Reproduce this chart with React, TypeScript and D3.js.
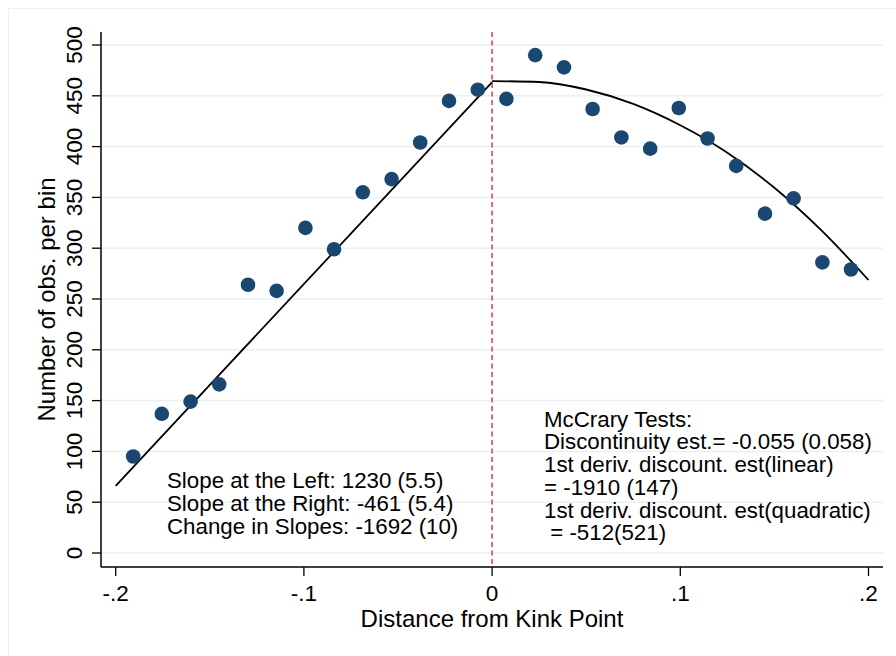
import React from "react";
import * as d3 from "d3";

// Binned observations (distance from kink, count per bin)
const binX: number[] = [
  -0.1907, -0.1755, -0.1602, -0.1450, -0.1297, -0.1145, -0.0992, -0.0840, -0.0687, -0.0534, -0.0382, -0.0229, -0.0076,
  0.0076, 0.0229, 0.0382, 0.0534, 0.0687, 0.0840, 0.0992, 0.1145, 0.1297, 0.1450, 0.1602, 0.1755, 0.1907,
];
const binCount: number[] = [
  95, 137, 149, 166, 264, 258, 320, 299, 355, 368, 404, 445, 456,
  447, 490, 478, 437, 409, 398, 438, 408, 381, 334, 349, 286, 279,
];

// Left linear fit
const leftFitX: number[] = [-0.2, 0];
const leftFitY: number[] = [66, 463.5];

// Right quadratic fit
const rightFitX: number[] = [0, 0.025, 0.05, 0.075, 0.1, 0.125, 0.15, 0.175, 0.2];
const rightFitY: number[] = [464.5, 463.6, 456.2, 442, 421, 394, 359.5, 317.5, 268.7];

const xTicks: number[] = [-0.2, -0.1, 0, 0.1, 0.2];
const xTickLabels: string[] = ["-.2", "-.1", "0", ".1", ".2"];
const yTicks: number[] = [0, 50, 100, 150, 200, 250, 300, 350, 400, 450, 500];

const leftNotes: string[] = [
  "Slope at the Left: 1230 (5.5)",
  "Slope at the Right: -461 (5.4)",
  "Change in Slopes: -1692 (10)",
];
const rightNotes: string[] = [
  "McCrary Tests:",
  "Discontinuity est.= -0.055 (0.058)",
  "1st deriv. discount. est(linear)",
  "= -1910 (147)",
  "1st deriv. discount. est(quadratic)",
  " = -512(521)",
];

const xTitle = "Distance from Kink Point";
const yTitle = "Number of obs. per bin";

const W = 896;
const H = 656;
const PL = 101, PR = 883, PT = 32, PB = 567;
const FONT = "'Liberation Sans', Arial, Helvetica, sans-serif";

export default function App() {
  const x = d3.scaleLinear().domain([-0.2, 0.2]).range([115.7, 868.5]);
  const y = d3.scaleLinear().domain([0, 500]).range([553, 45]);

  const leftPath = d3
    .line<number>()
    .x((d) => x(leftFitX[d]))
    .y((d) => y(leftFitY[d]))(leftFitX.map((_, i) => i)) || "";
  const rightPath = d3
    .line<number>()
    .x((d) => x(rightFitX[d]))
    .y((d) => y(rightFitY[d]))
    .curve(d3.curveMonotoneX)(rightFitX.map((_, i) => i)) || "";

  return (
    <svg
      width={W}
      height={H}
      style={{ position: "absolute", left: 0, top: 0, background: "#fff" }}
      fontFamily={FONT}
    >
      <rect x={0} y={0} width={W} height={H} fill="#fff" />
      <line x1={8} x2={W} y1={8.5} y2={8.5} stroke="#eaf0f3" strokeWidth={1} />
      <line x1={8.5} x2={8.5} y1={8} y2={H} stroke="#eaf0f3" strokeWidth={1} />

      {/* gridlines */}
      {yTicks.map((t) => (
        <line key={"g" + t} x1={PL} x2={PR} y1={y(t)} y2={y(t)} stroke="#e9eff3" strokeWidth={1.5} />
      ))}

      {/* kink line */}
      <line x1={x(0)} x2={x(0)} y1={PT} y2={PB} stroke="#d9466e" strokeWidth={1.6} strokeDasharray="5,3.5" />

      {/* axes */}
      <line x1={PL} x2={PL} y1={PT} y2={PB} stroke="#000" strokeWidth={1.5} />
      <line x1={PL} x2={PR} y1={PB} y2={PB} stroke="#000" strokeWidth={1.5} />

      {yTicks.map((t) => (
        <g key={"y" + t}>
          <line x1={PL - 9} x2={PL} y1={y(t)} y2={y(t)} stroke="#000" strokeWidth={1.3} />
          <text
            transform={`translate(${82},${y(t)}) rotate(-90)`}
            textAnchor="middle"
            fontSize={22.5}
            fill="#000"
          >
            {t}
          </text>
        </g>
      ))}

      {xTicks.map((t, i) => (
        <g key={"x" + t}>
          <line x1={x(t)} x2={x(t)} y1={PB} y2={PB + 9} stroke="#000" strokeWidth={1.3} />
          <text x={x(t)} y={601} textAnchor="middle" fontSize={22.5} fill="#000">
            {xTickLabels[i]}
          </text>
        </g>
      ))}

      <text x={(PL + PR) / 2} y={627} textAnchor="middle" fontSize={24} fill="#000">
        {xTitle}
      </text>
      <text
        transform={`translate(${55},${(PT + PB) / 2}) rotate(-90)`}
        textAnchor="middle"
        fontSize={24}
        fill="#000"
      >
        {yTitle}
      </text>

      {/* fits */}
      <path d={leftPath} fill="none" stroke="#000" strokeWidth={1.8} />
      <path d={rightPath} fill="none" stroke="#000" strokeWidth={1.8} />

      {/* points */}
      {binX.map((bx, i) => (
        <circle key={"p" + i} cx={x(bx)} cy={y(binCount[i])} r={7.3} fill="#1a476f" />
      ))}

      {/* annotations */}
      {leftNotes.map((s, i) => (
        <text key={"l" + i} x={167} y={488.3 + i * 22.6} fontSize={22.3} fill="#000">
          {s}
        </text>
      ))}
      {rightNotes.map((s, i) => (
        <text key={"r" + i} x={544} y={426.7 + i * 22.7} fontSize={22.3} fill="#000" xmlSpace="preserve" style={{ whiteSpace: "pre" }}>
          {s}
        </text>
      ))}
    </svg>
  );
}
